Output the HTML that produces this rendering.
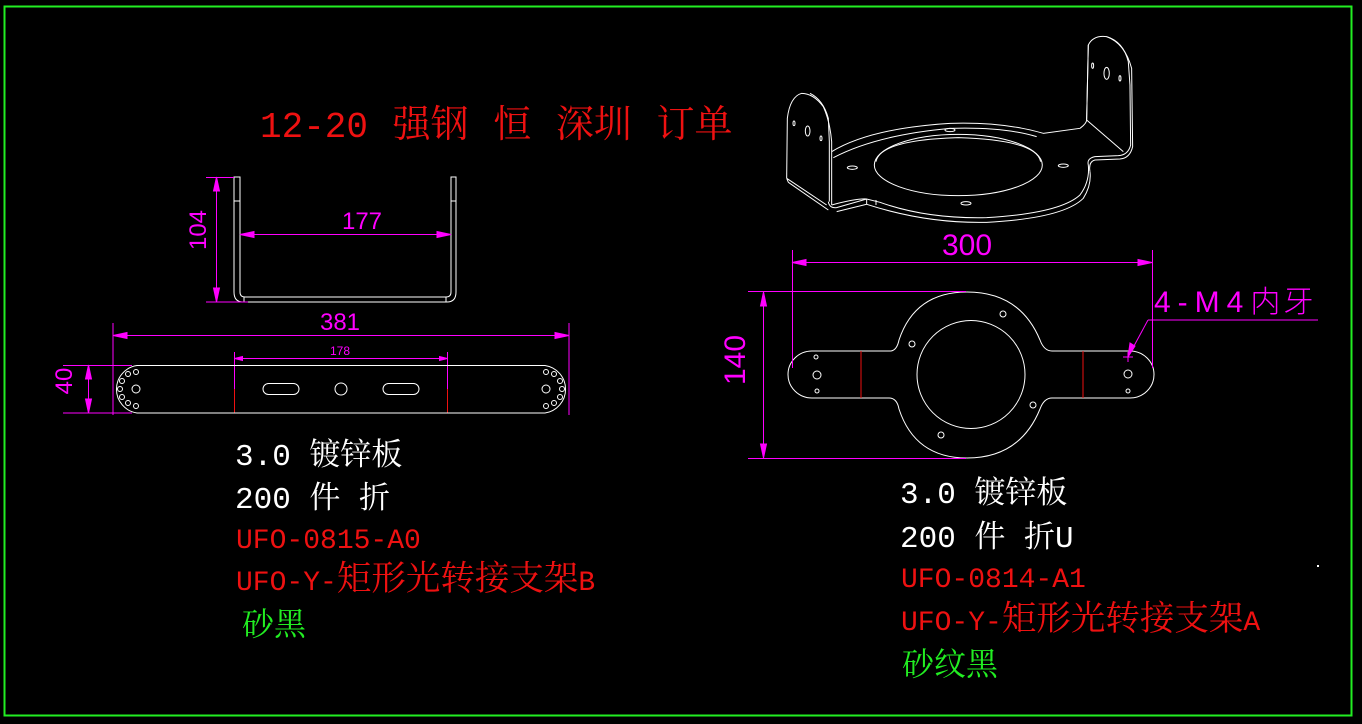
<!DOCTYPE html>
<html><head><meta charset="utf-8"><style>
html,body{margin:0;padding:0;background:#000;}
svg{display:block;}
text{font-family:"Liberation Mono","Noto Serif CJK SC",monospace;}
.d{font-family:"Liberation Sans",sans-serif;fill:#ff00ff;}
</style></head><body>
<svg width="1362" height="724" viewBox="0 0 1362 724" xmlns="http://www.w3.org/2000/svg">
<rect width="1362" height="724" fill="#000"/>
<rect x="4.5" y="6.5" width="1347" height="709" fill="none" stroke="#22ee22" stroke-width="2"/>

<!-- title -->
<text x="260" y="137" font-size="36" fill="#ee1111" word-spacing="3">12-20 <tspan font-size="38">强钢</tspan> <tspan font-size="38">恒</tspan> <tspan font-size="38">深圳</tspan> <tspan font-size="38">订单</tspan></text>

<!-- left U view -->
<g fill="none" stroke="#fff" stroke-width="1">
<path d="M234,177 L234,292 Q234,302 243,302 L447,302 Q456,302 456,292 L456,177 L451,177 L451,292 Q451,297 446,297 L245,297 Q240,297 240,292 L240,177 Z"/>
<line x1="234" y1="201" x2="240" y2="201"/><line x1="451" y1="201" x2="456" y2="201"/>
<line x1="244" y1="297" x2="244" y2="302"/><line x1="446" y1="297" x2="446" y2="302"/>
</g>
<g stroke="#ff00ff" stroke-width="1" fill="#ff00ff">
<line x1="206" y1="177.5" x2="234" y2="177.5"/><line x1="206" y1="302" x2="248" y2="302"/>
<line x1="216.5" y1="177" x2="216.5" y2="302"/>
<path d="M216.5,177 l-3,14 h6z M216.5,302 l-3,-14 h6z"/>
<line x1="240" y1="234.5" x2="451" y2="234.5"/>
<path d="M240,234.5 l14,-3 v6z M451,234.5 l-14,-3 v6z"/>
<line x1="113" y1="323" x2="113" y2="415"/><line x1="569" y1="323" x2="569" y2="415"/>
<line x1="113" y1="335.5" x2="569" y2="335.5"/>
<path d="M113,335.5 l14,-3 v6z M569,335.5 l-14,-3 v6z"/>
<line x1="234.5" y1="352" x2="234.5" y2="389"/><line x1="447.5" y1="352" x2="447.5" y2="389"/>
<line x1="234.5" y1="358.5" x2="447.5" y2="358.5"/>
<path d="M234.5,358.5 l8,-2 v4z M447.5,358.5 l-8,-2 v4z"/>
<line x1="63" y1="365.5" x2="132" y2="365.5"/><line x1="63" y1="413" x2="132" y2="413"/>
<line x1="88.5" y1="365" x2="88.5" y2="413"/>
<path d="M88.5,365 l-3,14 h6z M88.5,413 l-3,-14 h6z"/>
</g>
<text class="d" x="216" y="240" font-size="24" text-anchor="middle" transform="rotate(-90 206 240)">104</text>
<text class="d" x="362" y="229" font-size="24" text-anchor="middle">177</text>
<text class="d" x="340" y="330" font-size="24" text-anchor="middle">381</text>
<text class="d" x="340" y="355" font-size="12" text-anchor="middle">178</text>
<text class="d" x="80" y="389" font-size="24" text-anchor="middle" transform="rotate(-90 72 389)">40</text>
<line x1="234.5" y1="389" x2="234.5" y2="413" stroke="#ee1111"/><line x1="447.5" y1="389" x2="447.5" y2="413" stroke="#ee1111"/>
<g fill="none" stroke="#fff" stroke-width="1">
<path d="M137,365.5 L545,365.5 A24,24 0 0 1 545,413 L137,413 A24,24 0 0 1 137,365.5 Z"/>
<rect x="263" y="383.5" width="36" height="11" rx="5.5"/>
<rect x="383" y="383.5" width="36" height="11" rx="5.5"/>
<circle cx="341" cy="389" r="6"/>
<circle cx="136" cy="389" r="4"/>
<circle cx="128" cy="374" r="2.5"/><circle cx="136" cy="372" r="2.5"/><circle cx="122" cy="381" r="2.5"/><circle cx="120" cy="389" r="2.5"/><circle cx="122" cy="397" r="2.5"/><circle cx="128" cy="403" r="2.5"/><circle cx="136" cy="406" r="2.5"/>
<circle cx="546" cy="389" r="4"/>
<circle cx="554" cy="374" r="2.5"/><circle cx="546" cy="372" r="2.5"/><circle cx="560" cy="381" r="2.5"/><circle cx="562" cy="389" r="2.5"/><circle cx="560" cy="397" r="2.5"/><circle cx="554" cy="403" r="2.5"/><circle cx="546" cy="406" r="2.5"/>
</g>

<!-- left text -->
<text x="235" y="465" font-size="31" fill="#fff">3.0 镀锌板</text>
<text x="235" y="508" font-size="31" fill="#fff">200 件 折</text>
<text x="236" y="548" font-size="28" fill="#ee1111">UFO-0815-A0</text>
<text x="236" y="590" font-size="28" fill="#ee1111">UFO-Y-<tspan font-size="34.5">矩形光转接支架</tspan>B</text>
<text x="242" y="635" font-size="32" fill="#22ee22">砂黑</text>

<!-- isometric -->
<g transform="translate(770,25) scale(0.3333)" fill="none" stroke="#fff" stroke-width="3">
<path d="M50,460 L52,280 Q60,215 95,205 Q130,205 160,245 Q180,290 185,350 L185,540"/>
<path d="M120,205 Q160,225 175,280 L178,350 L178,530"/>
<path d="M50,460 L170,540 M55,472 L175,555 M50,460 L55,472"/>
<path d="M185,380 Q300,310 540,295 Q700,290 820,325 L930,310 Q950,295 950,285 L955,60 Q970,30 1010,35 Q1060,50 1075,110 L1080,180 L1082,360 Q1075,390 1045,392 L975,395 Q950,400 955,420 Q960,470 930,510 Q870,565 650,578 Q470,582 330,532 L290,522 L200,548 Q178,550 175,530"/>
<path d="M1010,35 Q1065,55 1085,130 L1088,365 Q1080,400 1050,402 L975,405 Q955,410 960,440"/>
<path d="M950,285 L1060,380 M955,60 L950,285"/>
<path d="M190,398 Q320,330 540,310 Q700,305 800,335"/>
<path d="M185,540 Q260,520 290,522 M200,560 L290,538 Q470,596 650,592 Q880,580 940,520 Q965,480 960,440"/>
<line x1="290" y1="522" x2="290" y2="538"/><line x1="318" y1="525" x2="318" y2="540"/>
<ellipse cx="565" cy="420" rx="252" ry="92"/>
<path d="M318,410 Q330,345 565,338 Q800,345 812,410"/>
<ellipse cx="540" cy="315" rx="15" ry="5"/><ellipse cx="247" cy="428" rx="15" ry="5"/>
<ellipse cx="880" cy="422" rx="15" ry="5"/><ellipse cx="588" cy="535" rx="15" ry="5"/>
<ellipse cx="72" cy="295" rx="3" ry="7"/><ellipse cx="113" cy="318" rx="7" ry="15"/><ellipse cx="153" cy="340" rx="3" ry="7"/>
<ellipse cx="968" cy="122" rx="3" ry="8"/><ellipse cx="1010" cy="145" rx="8" ry="18"/><ellipse cx="1050" cy="160" rx="3" ry="8"/>
</g>

<!-- right flat view -->
<g fill="none" stroke="#fff" stroke-width="1">
<path d="M891,351 Q897,350 899,340 Q915,292 967,292 Q1020,292 1040,340 Q1044,351 1052,351 L1130,351 A24,23.5 0 0 1 1130,398 L1052,398 Q1044,398 1040,409 Q1020,458 967,458 Q915,458 899,409 Q897,398 889,398 L812,398 A24,23.5 0 0 1 812,351 Z"/>
<circle cx="971" cy="374.5" r="54"/>
<circle cx="816" cy="357" r="2"/><circle cx="817" cy="375" r="4"/><circle cx="817" cy="391" r="2"/>
<circle cx="1128" cy="374" r="4"/><circle cx="1128" cy="391" r="2"/>
<circle cx="1003" cy="314" r="3"/><circle cx="912" cy="344" r="3"/><circle cx="1033" cy="405" r="3"/><circle cx="941" cy="435" r="3"/>
</g>
<line x1="861" y1="351" x2="861" y2="398" stroke="#ee1111"/><line x1="1083" y1="351" x2="1083" y2="398" stroke="#ee1111"/>
<g stroke="#ff00ff" stroke-width="1" fill="#ff00ff">
<line x1="792.5" y1="250" x2="792.5" y2="368"/><line x1="1152.5" y1="250" x2="1152.5" y2="368"/>
<line x1="792" y1="262.5" x2="1152" y2="262.5"/>
<path d="M792,262.5 l14,-3 v6z M1152,262.5 l-14,-3 v6z"/>
<line x1="748" y1="291.5" x2="966" y2="291.5"/><line x1="748" y1="458.5" x2="966" y2="458.5"/>
<line x1="763.5" y1="292" x2="763.5" y2="458"/>
<path d="M763.5,292 l-3,14 h6z M763.5,458 l-3,-14 h6z"/>
<line x1="1123" y1="357" x2="1133" y2="357"/><line x1="1128" y1="352" x2="1128" y2="362"/>
<line x1="1128" y1="357" x2="1148" y2="320"/><line x1="1148" y1="320" x2="1318" y2="320"/>
<path d="M1128,357 l2,-14 l5,3z"/>
</g>
<text class="d" x="967" y="255" font-size="30" text-anchor="middle">300</text>
<text class="d" x="755" y="370" font-size="30" text-anchor="middle" transform="rotate(-90 745 370)">140</text>
<text x="1154" y="312" font-size="30" fill="#ff00ff" letter-spacing="7" style="font-family:'Liberation Sans','Noto Sans CJK SC',sans-serif;font-weight:300">4-M4<tspan letter-spacing="3">内牙</tspan></text>

<!-- right text -->
<text x="900" y="503" font-size="31" fill="#fff">3.0 镀锌板</text>
<text x="900" y="547" font-size="31" fill="#fff">200 件 折U</text>
<text x="901" y="587" font-size="28" fill="#ee1111">UFO-0814-A1</text>
<text x="901" y="630" font-size="28" fill="#ee1111">UFO-Y-<tspan font-size="34.5">矩形光转接支架</tspan>A</text>
<text x="902" y="675" font-size="32" fill="#22ee22">砂纹黑</text>
<rect x="1317" y="565" width="2" height="2" fill="#fff"/>
</svg>
</body></html>
